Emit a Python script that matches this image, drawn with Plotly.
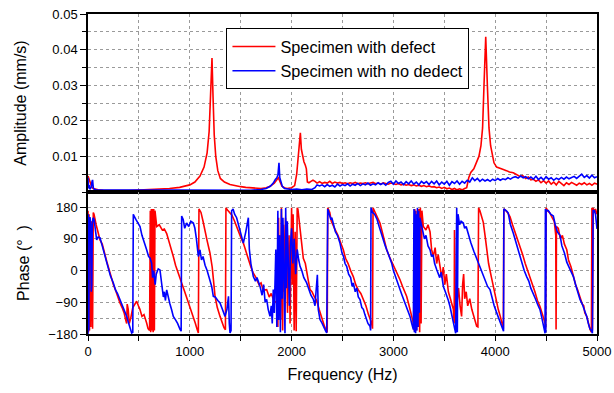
import plotly.graph_objects as go

# ---------------- Amplitude data ----------------
amp_defect_f = [0, 8, 15, 25, 35, 50, 75, 100, 150, 200, 300, 400, 500, 600, 700, 800, 900, 1000, 1050, 1100,
                1140, 1170, 1190, 1205, 1218, 1228, 1240, 1255, 1275, 1300, 1340, 1395, 1450, 1500, 1550, 1600,
                1650, 1700, 1750, 1790, 1830, 1855, 1870, 1885, 1905, 1930, 1955, 2000, 2030, 2050, 2065, 2078,
                2086, 2096, 2108, 2121, 2135, 2145, 2155, 2170, 2190, 2210, 2230, 2250, 2275, 2300, 2325, 2350,
                2375, 2400, 2425, 2450, 2475, 2500, 2525, 2550, 2575, 2600, 2625, 2650, 2675, 2700, 2725, 2750,
                2775, 2800, 2825, 2850, 2875, 2900, 2925, 2950, 2975, 3000, 3025, 3050, 3075, 3100, 3125, 3150,
                3175, 3200, 3225, 3250, 3275, 3300, 3325, 3350, 3375, 3400, 3425, 3450, 3475, 3500, 3525, 3550,
                3575, 3600, 3625, 3650, 3675, 3700, 3720, 3740, 3760, 3790, 3818, 3840, 3860, 3876, 3890, 3907,
                3923, 3939, 3955, 3970, 3988, 4014, 4050, 4080, 4110, 4140, 4178, 4210, 4243, 4270, 4300, 4325,
                4350, 4374, 4400, 4425, 4450, 4475, 4500, 4525, 4550, 4575, 4600, 4625, 4650, 4675, 4700, 4725,
                4750, 4775, 4800, 4825, 4850, 4875, 4900, 4925, 4950, 4975, 5000]
amp_defect_v = [0.0045, 0.0038, 0.0030, 0.0022, 0.0016, 0.0010, 0.0007, 0.0006, 0.0005, 0.0004, 0.0004, 0.0004,
                0.0005, 0.0006, 0.0008, 0.0010, 0.0013, 0.0020, 0.0028, 0.0045, 0.0070, 0.0110, 0.0170, 0.0280,
                0.0376, 0.0270, 0.0160, 0.0100, 0.0060, 0.0038, 0.0028, 0.0021, 0.0017, 0.0015, 0.0013, 0.0012,
                0.0011, 0.0010, 0.0012, 0.0016, 0.0025, 0.0035, 0.0040, 0.0030, 0.0016, 0.0012, 0.0010, 0.0012,
                0.0018, 0.0050, 0.0095, 0.0140, 0.0166, 0.0120, 0.0100, 0.0085, 0.0075, 0.0065, 0.0028, 0.0026,
                0.0030, 0.0033, 0.0030, 0.0025, 0.0029, 0.0024, 0.0027, 0.0025, 0.0030, 0.0024, 0.0028, 0.0025,
                0.0027, 0.0024, 0.0026, 0.0023, 0.0026, 0.0024, 0.0027, 0.0023, 0.0025, 0.0024, 0.0026, 0.0023,
                0.0025, 0.0027, 0.0023, 0.0025, 0.0022, 0.0026, 0.0024, 0.0022, 0.0025, 0.0023, 0.0021, 0.0024,
                0.0020, 0.0022, 0.0019, 0.0021, 0.0018, 0.0020, 0.0017, 0.0019, 0.0016, 0.0018, 0.0015, 0.0017,
                0.0014, 0.0015, 0.0012, 0.0014, 0.0010, 0.0013, 0.0009, 0.0011, 0.0007, 0.0010, 0.0006, 0.0009,
                0.0006, 0.0010, 0.0012, 0.0040, 0.0055, 0.0065, 0.0082, 0.0100, 0.0130, 0.0180, 0.0300, 0.0436,
                0.0300, 0.0180, 0.0130, 0.0110, 0.0082, 0.0070, 0.0065, 0.0063, 0.0060, 0.0056, 0.0054, 0.0048,
                0.0044, 0.0046, 0.0038, 0.0042, 0.0034, 0.0036, 0.0030, 0.0034, 0.0026, 0.0032, 0.0025, 0.0031,
                0.0022, 0.0028, 0.0020, 0.0030, 0.0024, 0.0018, 0.0026, 0.0021, 0.0027, 0.0022, 0.0019, 0.0025,
                0.0021, 0.0026, 0.0020, 0.0024, 0.0019, 0.0025, 0.0022]

amp_nodefect_f = [0, 4, 10, 18, 30, 40, 45, 52, 60, 80, 100, 200, 300, 400, 500, 600, 700, 800, 900, 1000, 1100,
                  1200, 1300, 1400, 1500, 1600, 1700, 1750, 1790, 1820, 1840, 1855, 1866, 1876, 1884, 1895, 1910,
                  1930, 1960, 2000, 2050, 2100, 2150, 2200, 2230, 2250, 2275, 2300, 2325, 2350, 2375, 2400, 2425,
                  2450, 2475, 2500, 2525, 2550, 2575, 2600, 2625, 2650, 2675, 2700, 2725, 2750, 2775, 2800, 2825,
                  2850, 2875, 2900, 2925, 2950, 2975, 3000, 3025, 3050, 3075, 3100, 3125, 3150, 3175, 3200, 3225,
                  3250, 3275, 3300, 3325, 3350, 3375, 3400, 3425, 3450, 3475, 3500, 3525, 3550, 3575, 3600, 3625,
                  3650, 3675, 3700, 3725, 3750, 3775, 3800, 3825, 3850, 3875, 3900, 3925, 3950, 3975, 4000, 4025,
                  4050, 4075, 4100, 4125, 4150, 4175, 4200, 4225, 4250, 4275, 4300, 4325, 4350, 4375, 4400, 4425,
                  4450, 4475, 4500, 4525, 4550, 4575, 4600, 4625, 4650, 4675, 4700, 4725, 4750, 4775, 4800, 4825,
                  4850, 4875, 4900, 4925, 4950, 4975, 5000]
amp_nodefect_v = [0.0040, 0.0010, 0.0020, 0.0008, 0.0012, 0.0030, 0.0034, 0.0012, 0.0008, 0.0006, 0.0006, 0.0005,
                  0.0006, 0.0005, 0.0006, 0.0005, 0.0005, 0.0004, 0.0005, 0.0004, 0.0005, 0.0004, 0.0005, 0.0004,
                  0.0005, 0.0005, 0.0007, 0.0010, 0.0016, 0.0025, 0.0035, 0.0040, 0.0048, 0.0082, 0.0040, 0.0028,
                  0.0015, 0.0010, 0.0008, 0.0007, 0.0008, 0.0006, 0.0008, 0.0007, 0.0012, 0.0020, 0.0017, 0.0020,
                  0.0015, 0.0021, 0.0016, 0.0019, 0.0014, 0.0022, 0.0017, 0.0021, 0.0018, 0.0023, 0.0017, 0.0022,
                  0.0019, 0.0024, 0.0018, 0.0023, 0.0020, 0.0025, 0.0019, 0.0023, 0.0020, 0.0026, 0.0021, 0.0025,
                  0.0019, 0.0027, 0.0030, 0.0022, 0.0031, 0.0024, 0.0028, 0.0021, 0.0029, 0.0023, 0.0031, 0.0022,
                  0.0028, 0.0020, 0.0030, 0.0024, 0.0029, 0.0021, 0.0030, 0.0023, 0.0031, 0.0020, 0.0028, 0.0022,
                  0.0030, 0.0019, 0.0029, 0.0024, 0.0031, 0.0022, 0.0030, 0.0025, 0.0033, 0.0028, 0.0040, 0.0032,
                  0.0038, 0.0030, 0.0036, 0.0031, 0.0035, 0.0030, 0.0036, 0.0032, 0.0038, 0.0033, 0.0037, 0.0035,
                  0.0040, 0.0036, 0.0041, 0.0043, 0.0039, 0.0045, 0.0040, 0.0043, 0.0037, 0.0042, 0.0036, 0.0044,
                  0.0035, 0.0041, 0.0034, 0.0043, 0.0036, 0.0040, 0.0033, 0.0039, 0.0035, 0.0041, 0.0036, 0.0042,
                  0.0037, 0.0040, 0.0044, 0.0038, 0.0045, 0.0050, 0.0041, 0.0046, 0.0039, 0.0047, 0.0040, 0.0043]

# ---------------- Phase data ----------------
phase_defect_f = [0, 5, 10, 15, 20, 28, 35, 45, 52, 59, 80, 100, 118, 140, 160, 185, 200, 216, 235, 250, 270, 290,
                  314, 335, 355, 370, 380, 385, 395, 405, 420, 440, 460, 478, 495, 510, 530, 550, 576, 590, 605,
                  612, 616, 622, 626, 632, 640, 646, 652, 658, 675, 700, 730, 750, 773, 800, 820, 838, 860, 880,
                  900, 920, 950, 980, 1000, 1020, 1035, 1055, 1070, 1084, 1090, 1110, 1130, 1150, 1170, 1198, 1220,
                  1248, 1270, 1297, 1320, 1336, 1350, 1355, 1370, 1390, 1414, 1440, 1470, 1500, 1526, 1550, 1575,
                  1600, 1624, 1650, 1680, 1700, 1720, 1755, 1780, 1800, 1825, 1853, 1860, 1865, 1872, 1878, 1885,
                  1892, 1900, 1905, 1912, 1920, 1930, 1940, 1950, 1960, 1975, 1985, 2000, 2008, 2015, 2025, 2035,
                  2045, 2055, 2062, 2075, 2090, 2100, 2115, 2135, 2150, 2165, 2181, 2200, 2225, 2246, 2270, 2290,
                  2310, 2325, 2338, 2350, 2355, 2375, 2390, 2410, 2430, 2455, 2480, 2508, 2530, 2555, 2580, 2606,
                  2630, 2655, 2680, 2705, 2730, 2755, 2775, 2786, 2795, 2800, 2820, 2845, 2868, 2890, 2910, 2934,
                  2960, 2985, 3010, 3040, 3065, 3090, 3110, 3130, 3150, 3170, 3185, 3196, 3205, 3210, 3215, 3222,
                  3228, 3235, 3242, 3250, 3258, 3265, 3272, 3280, 3294, 3320, 3340, 3360, 3375, 3392, 3410, 3425,
                  3440, 3458, 3475, 3490, 3505, 3520, 3540, 3560, 3575, 3589, 3597, 3600, 3606, 3615, 3625, 3640,
                  3655, 3670, 3680, 3690, 3700, 3715, 3730, 3750, 3770, 3790, 3805, 3818, 3830, 3837, 3850, 3865,
                  3883, 3900, 3916, 3935, 3960, 3981, 4005, 4030, 4050, 4065, 4073, 4080, 4085, 4100, 4120, 4145,
                  4170, 4195, 4220, 4243, 4270, 4295, 4320, 4342, 4365, 4390, 4415, 4440, 4465, 4489, 4495, 4500,
                  4515, 4538, 4560, 4580, 4595, 4598, 4602, 4620, 4640, 4660, 4680, 4703, 4720, 4745, 4768, 4790,
                  4810, 4833, 4855, 4870, 4880, 4899, 4915, 4932, 4945, 4950, 4955, 4962, 4975, 4985, 5000]
phase_defect_v = [170, -175, 160, -170, 120, -160, 140, -165, 165, 160, 130, 110, 87, 75, 50, 25, 10, -7, -25, -40,
                  -55, -75, -92, -105, -120, -140, -150, -95, -110, -150, -135, -105, -95, -87, -100, -110, -130,
                  -125, -149, -165, -170, 170, -175, 175, -170, 175, -175, 175, -170, 170, 125, 130, 115, 118, 105,
                  80, 60, 40, 15, 0, -20, -35, -60, -85, -100, -118, -130, -150, -165, -177, 175, 165, 140, 110, 85,
                  50, 10, -73, -105, -130, -150, -162, -168, 178, 172, 165, 157, 140, 115, 95, 78, 55, 35, 10, -7,
                  -20, -40, -35, -55, -54, -75, -65, -85, -92, -45, -160, 150, -100, 100, -140, 178, 20, -170, 130,
                  -60, 150, 60, -120, 100, -150, 178, -40, 160, -170, 110, -172, 178, 175, 140, 100, 80, 35, 20, -10,
                  -30, -54, -60, -75, -85, -110, -130, -145, -160, -168, -175, 178, 165, 140, 125, 115, 100, 80, 59,
                  35, 20, 0, -17, -40, -55, -65, -83, -100, -125, -140, -149, -165, 178, 165, 150, 135, 110, 85, 59,
                  40, 25, 5, -10, -26, -45, -60, -73, -95, -120, -140, -149, -170, 175, -175, 170, -170, 160, -160,
                  175, -175, 178, -150, 170, 125, 115, 130, 110, 60, 40, 65, 20, 45, 12, -20, 10, -40, -10, -60, -80,
                  -100, -110, -150, 115, -60, -140, -90, -50, -100, -130, -40, -10, -80, -60, -100, -80, -110, -130,
                  -145, -158, -160, 178, 170, 155, 137, 100, 62, 20, -15, -45, -75, -110, -130, -150, -158, -165,
                  175, 172, 165, 153, 130, 110, 90, 68, 45, 20, 0, -17, -35, -60, -85, -102, -125, -149, -165, 178,
                  170, 163, 150, 140, 100, -167, 125, 120, 90, 100, 75, 59, 30, 10, -17, -40, -55, -73, -95, -100,
                  -120, -130, -150, -167, -175, 178, -170, 178, 165, 175, 160]

phase_nodefect_f = [0, 3, 8, 12, 20, 25, 32, 37, 42, 50, 60, 70, 85, 100, 118, 140, 160, 183, 200, 220, 249, 270,
                    290, 314, 335, 355, 380, 400, 415, 429, 440, 445, 452, 470, 490, 511, 530, 555, 576, 595, 610,
                    625, 635, 645, 660, 670, 690, 707, 720, 730, 740, 750, 760, 773, 790, 805, 820, 838, 860, 880,
                    904, 915, 920, 935, 950, 969, 990, 1010, 1035, 1050, 1065, 1084, 1100, 1115, 1130, 1150, 1170,
                    1198, 1215, 1231, 1250, 1275, 1297, 1320, 1346, 1365, 1380, 1388, 1395, 1405, 1411, 1425, 1440,
                    1460, 1480, 1500, 1526, 1550, 1565, 1575, 1585, 1600, 1624, 1645, 1660, 1690, 1710, 1725, 1740,
                    1755, 1770, 1788, 1800, 1810, 1820, 1830, 1845, 1855, 1865, 1872, 1880, 1890, 1900, 1908, 1915,
                    1925, 1935, 1942, 1950, 1958, 1968, 1978, 1990, 2000, 2012, 2025, 2040, 2055, 2070, 2083, 2100,
                    2120, 2148, 2170, 2190, 2214, 2230, 2240, 2253, 2262, 2279, 2300, 2320, 2335, 2345, 2355, 2370,
                    2385, 2395, 2410, 2430, 2450, 2475, 2495, 2510, 2525, 2541, 2560, 2580, 2595, 2606, 2625, 2640,
                    2655, 2672, 2690, 2705, 2720, 2737, 2750, 2770, 2776, 2780, 2795, 2815, 2840, 2860, 2880, 2900,
                    2920, 2940, 2960, 2983, 3000, 3020, 3040, 3065, 3085, 3105, 3125, 3145, 3163, 3180, 3196, 3202,
                    3206, 3212, 3218, 3224, 3230, 3236, 3242, 3248, 3255, 3260, 3277, 3290, 3305, 3320, 3340, 3360,
                    3375, 3390, 3405, 3425, 3440, 3455, 3470, 3491, 3510, 3525, 3540, 3556, 3570, 3589, 3605, 3612,
                    3618, 3622, 3628, 3635, 3650, 3665, 3687, 3700, 3715, 3736, 3760, 3790, 3818, 3840, 3860, 3883,
                    3905, 3925, 3949, 3970, 3990, 4015, 4035, 4050, 4064, 4075, 4082, 4085, 4100, 4115, 4128, 4150,
                    4178, 4200, 4220, 4243, 4265, 4285, 4309, 4330, 4350, 4374, 4395, 4415, 4440, 4455, 4473, 4485,
                    4490, 4493, 4497, 4500, 4510, 4522, 4545, 4571, 4590, 4610, 4637, 4655, 4680, 4703, 4725, 4745,
                    4768, 4790, 4810, 4833, 4855, 4875, 4899, 4915, 4930, 4948, 4955, 4962, 4975, 4985, 5000]
phase_nodefect_v = [-180, 160, -170, 150, 150, 140, -60, -40, 130, 150, 145, 120, 87, 95, 93, 70, 50, 21, 5, -15,
                    -35, -55, -65, -82, -100, -110, -130, -150, -165, -177, -175, 160, 155, 145, 135, 125, 100, 80,
                    59, 40, 35, 21, -20, 0, -40, -10, 5, 2, -30, -45, -75, -60, -85, -55, -80, -95, -110, -130, -140,
                    -150, -167, -172, 155, 145, 120, 135, 125, 140, 135, 120, 90, 40, 59, 30, 40, 15, 0, -26, -45,
                    -73, -75, -85, -92, -110, -130, -110, -73, -150, -177, -170, 170, 175, 160, 150, 130, 110, 78,
                    110, 130, 150, 60, 20, -17, -30, -20, -45, -70, -40, -90, -82, -110, -130, -100, -150, -54, -120,
                    60, -160, 170, -140, 100, -175, 175, -80, 150, 20, -178, 178, -50, 140, 40, -100, 80, 120, 20, 90,
                    -10, 60, 30, 12, 0, -20, -35, -55, -70, -82, -100, -60, -12, -110, -139, -150, -165, -172, -177,
                    175, 160, 145, 150, 135, 110, 100, 78, 50, 40, 20, 12, -10, -20, -45, -35, -60, -50, -75, -82,
                    -105, -110, -125, -139, -150, -158, -170, 178, 165, 160, 145, 125, 105, 87, 70, 55, 40, 21, 0,
                    -15, -35, -54, -70, -85, -100, -115, -130, -150, -167, 175, -175, 170, -178, 160, -170, 178, -160,
                    170, -120, 150, 125, 115, 90, 100, 70, 59, 40, 45, 20, 3, -10, -20, -5, -45, -60, -70, -85, -102,
                    -120, -149, -167, -178, 60, 178, -175, 160, 130, 140, 135, 120, 125, 100, 80, 55, 34, 15, 0, -17,
                    -30, -45, -54, -80, -100, -120, -135, -145, -158, -165, -172, 175, 172, 168, 163, 130, 106, 85,
                    60, 40, 20, 0, -17, -30, -50, -64, -80, -95, -111, -130, -158, -170, -178, 175, -175, 172, 170,
                    170, 160, 155, 130, 110, 100, 70, 50, 24, 10, -5, -17, -40, -60, -82, -95, -110, -130, -150, -165,
                    -172, -178, 170, 170, 160, 118]

# ---------------- labels ----------------
series_names = ["Specimen with defect", "Specimen with no dedect"]
amp_ticks = [0.01, 0.02, 0.03, 0.04, 0.05]
phase_ticks = [-180, -90, 0, 90, 180]
freq_ticks = [0, 1000, 2000, 3000, 4000, 5000]

RED = "#ff0000"
BLUE = "#0000ff"
FONT = "Liberation Sans, Arial, sans-serif"

fig = go.Figure()
fig.add_trace(go.Scatter(x=amp_defect_f, y=amp_defect_v, mode="lines", name=series_names[0],
                         line=dict(color=RED, width=1.6), xaxis="x", yaxis="y"))
fig.add_trace(go.Scatter(x=amp_nodefect_f, y=amp_nodefect_v, mode="lines", name=series_names[1],
                         line=dict(color=BLUE, width=1.6), xaxis="x", yaxis="y"))
fig.add_trace(go.Scatter(x=phase_defect_f, y=phase_defect_v, mode="lines", showlegend=False,
                         line=dict(color=RED, width=1.6), xaxis="x2", yaxis="y2"))
fig.add_trace(go.Scatter(x=phase_nodefect_f, y=phase_nodefect_v, mode="lines", showlegend=False,
                         line=dict(color=BLUE, width=1.6), xaxis="x2", yaxis="y2"))

split = (334 - 192) / 320.0
grid = dict(showgrid=True, gridcolor="#9a9a9a", gridwidth=1, griddash="dot")
axline = dict(showline=True, linecolor="black", linewidth=1.5, mirror=True, zeroline=False, automargin=False)

fig.update_layout(
    width=614, height=393,
    margin=dict(l=88, r=17, t=14, b=59, autoexpand=False),
    paper_bgcolor="white", plot_bgcolor="white",
    font=dict(family=FONT, size=13, color="black"),
    showlegend=True,
    legend=dict(x=0.272, y=0.955, xanchor="left", yanchor="top",
                bgcolor="white", bordercolor="black", borderwidth=1, itemwidth=43,
                font=dict(size=16.3, family=FONT), tracegroupgap=0),
    xaxis=dict(domain=[0, 1], anchor="y", range=[0, 5000], tickvals=freq_ticks, showticklabels=False,
               ticks="", minor=dict(dtick=500, tick0=0, ticks="", **grid), **grid, **axline),
    yaxis=dict(domain=[split, 1], anchor="x", range=[0, 0.05], tickvals=amp_ticks,
               ticks="outside", ticklen=6, tickwidth=1, tickcolor="black",
               minor=dict(dtick=0.005, tick0=0, ticks="outside", ticklen=4, tickcolor="black", **grid),
               title=dict(text="Amplitude (mm/s)", font=dict(size=16), standoff=22),
               **grid, **axline),
    xaxis2=dict(domain=[0, 1], anchor="y2", range=[0, 5000], tickvals=freq_ticks, matches="x",
                ticks="outside", ticklen=5, tickwidth=1, tickcolor="black",
                minor=dict(dtick=500, tick0=0, ticks="outside", ticklen=5, tickcolor="black", **grid),
                title=dict(text="Frequency (Hz)", font=dict(size=16), standoff=10),
                **grid, **axline),
    yaxis2=dict(domain=[0, split], anchor="x2", range=[-180, 223], tickvals=phase_ticks,
                ticks="outside", ticklen=6, tickwidth=1, tickcolor="black",
                minor=dict(dtick=45, tick0=0, ticks="outside", ticklen=4, tickcolor="black", **grid),
                title=dict(text="Phase (°\u00a0\u00a0)", font=dict(size=16), standoff=15),
                **grid, **axline),
)

fig.write_html("out.html")
